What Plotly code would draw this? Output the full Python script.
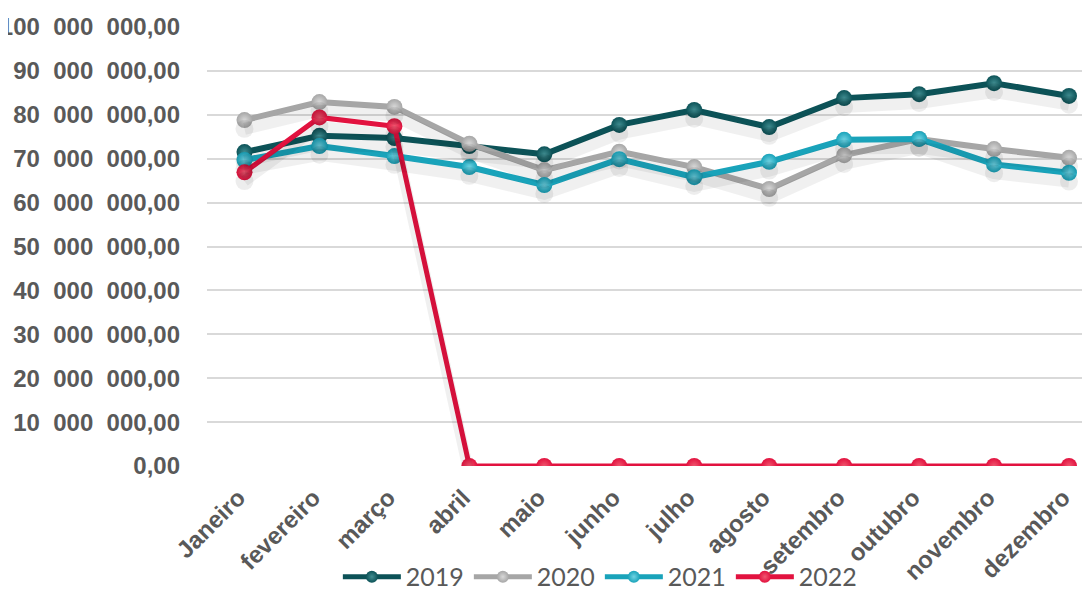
import plotly.graph_objects as go

months = ["Janeiro", "fevereiro", "março", "abril", "maio", "junho", "julho",
          "agosto", "setembro", "outubro", "novembro", "dezembro"]

v2019 = [71.5e6, 75.2e6, 74.7e6, 72.9e6, 71.0e6, 77.7e6, 81.1e6, 77.2e6, 83.8e6, 84.7e6, 87.2e6, 84.3e6]
v2020 = [78.8e6, 82.9e6, 81.8e6, 73.4e6, 67.4e6, 71.6e6, 68.1e6, 63.1e6, 70.8e6, 74.5e6, 72.2e6, 70.2e6]
v2021 = [69.7e6, 72.9e6, 70.6e6, 68.1e6, 64.0e6, 69.9e6, 65.8e6, 69.3e6, 74.3e6, 74.5e6, 68.7e6, 66.8e6]
v2022 = [66.9e6, 79.4e6, 77.4e6, 0, 0, 0, 0, 0, 0, 0, 0, 0]

ytick_vals = [0, 10e6, 20e6, 30e6, 40e6, 50e6, 60e6, 70e6, 80e6, 90e6, 100e6]
ytick_text = ["0,00", "10  000  000,00", "20  000  000,00", "30  000  000,00",
              "40  000  000,00", "50  000  000,00", "60  000  000,00", "70  000  000,00",
              "80  000  000,00", "90  000  000,00", "100  000  000,00"]

series = [
    ("2019", v2019, "#0c5257", "#3f8c90", 6),
    ("2020", v2020, "#a6a6a6", "#d8d8d8", 6),
    ("2021", v2021, "#19a3ba", "#6fd3e3", 6),
    ("2022", v2022, "#e2123f", "#f0566f", 5),
]

fig = go.Figure()

# soft shadows (same data drawn on a slightly offset hidden axis)
for name, vals, col, hi, w in series:
    fig.add_trace(go.Scatter(
        x=months, y=vals, mode="lines+markers", yaxis="y2",
        line=dict(color="rgba(0,0,0,0.06)", width=w + 6),
        marker=dict(size=18, color="rgba(0,0,0,0.07)"),
        showlegend=False, hoverinfo="skip"))

for name, vals, col, hi, w in series:
    fig.add_trace(go.Scatter(
        x=months, y=vals, mode="lines+markers", name=name,
        line=dict(color=col, width=w),
        marker=dict(size=16, color=col, line=dict(width=0),
                    gradient=dict(type="radial", color=hi))))

grey = "#595959"
bold_font = "Liberation Sans, Arial"
fig.update_layout(
    width=1082, height=582,
    margin=dict(l=199, r=0, t=19, b=124, autoexpand=False),
    plot_bgcolor="white", paper_bgcolor="white",
    font=dict(family=bold_font, color=grey),
    xaxis=dict(
        range=[-0.5, 11.28], tickangle=-45, showgrid=False, showline=False,
        zeroline=False, ticks="", automargin=False,
        ticklabelstandoff=12, ticklabelshift=-6,
        tickfont=dict(family=bold_font, size=24, color=grey, weight="bold"),
    ),
    yaxis=dict(
        range=[0, 100e6], tickvals=ytick_vals, ticktext=ytick_text,
        showgrid=True, gridcolor="#d9d9d9", gridwidth=2, zeroline=False,
        showline=False, ticks="", ticklabelstandoff=26, automargin=False,
        tickfont=dict(family=bold_font, size=24, color=grey, weight="bold"),
    ),
    yaxis2=dict(range=[2.0e6, 102.0e6], overlaying="y", visible=False),
    legend=dict(
        orientation="h", xref="container", yref="paper",
        x=0.547, xanchor="center", y=-0.2528, yanchor="middle",
        bgcolor="rgba(0,0,0,0)", itemwidth=58,
        entrywidth=58, entrywidthmode="pixels",
        traceorder="normal",
        font=dict(family="Lato, Liberation Sans", size=25, color=grey),
        itemsizing="constant", tracegroupgap=0,
    ),
    showlegend=True,
)

fig.write_html("out.html")
